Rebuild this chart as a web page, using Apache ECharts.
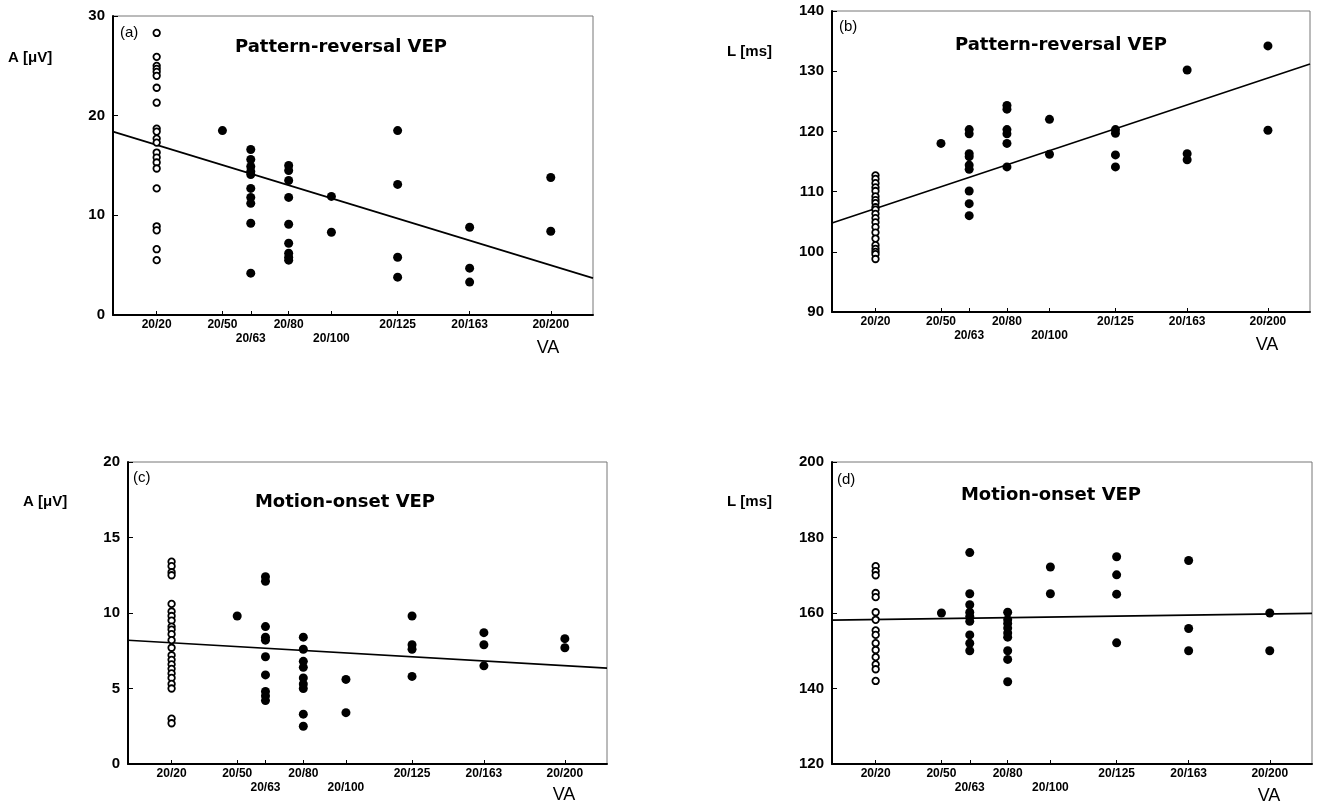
<!DOCTYPE html>
<html>
<head>
<meta charset="utf-8">
<script src="https://cdn.jsdelivr.net/npm/echarts@6/dist/echarts.min.js"></script>
<style>
  html, body { margin: 0; padding: 0; background: #fff; }
  #chart { width: 1322px; height: 804px; }
</style>
</head>
<body>
<div id="chart"></div>
<script>
  // visual acuity categories and where they sit on the x scale (0..100)
  const vaLabels = ['20/20', '20/50', '20/63', '20/80', '20/100', '20/125', '20/163', '20/200']
  const vaPos = [9.1, 22.8, 28.7, 36.6, 45.5, 59.3, 74.3, 91.2]
  const vaLowerRow = [false, false, true, false, true, false, false, false]
  const fitX = [0, 100]

  // (a) pattern-reversal amplitude, one list per acuity group
  const prAmp = [
    [28.3, 25.9, 25.0, 24.7, 24.4, 24.0, 22.8, 21.3, 18.7, 18.4, 17.7, 17.3, 16.3, 15.8, 15.3, 14.7, 12.7, 8.9, 8.5, 6.6, 5.5],
    [18.5],
    [16.6, 15.6, 14.9, 14.4, 14.1, 12.7, 11.8, 11.2, 9.2, 4.2],
    [15.0, 14.5, 13.5, 11.8, 9.1, 7.2, 6.2, 5.8, 5.5],
    [11.9, 8.3],
    [18.5, 13.1, 5.8, 3.8],
    [8.8, 4.7, 3.3],
    [13.8, 8.4]
  ]
  const prAmpFit = [18.4, 3.7]

  // (b) pattern-reversal latency
  const prLat = [
    [112.7, 112.1, 111.4, 110.7, 110.1, 109.2, 108.6, 108.1, 107.4, 107.0, 106.3, 105.6, 104.9, 104.1, 103.2, 102.2, 101.1, 100.5, 100.0, 99.6, 98.8],
    [118.0],
    [120.3, 119.6, 116.3, 115.8, 114.4, 113.7, 110.1, 108.0, 106.0],
    [124.3, 123.7, 120.3, 119.6, 118.0, 114.1],
    [122.0, 116.2],
    [120.3, 119.7, 116.1, 114.1],
    [130.2, 116.3, 115.3],
    [134.2, 120.2]
  ]
  const prLatFit = [104.8, 131.2]

  // (c) motion-onset amplitude
  const moAmp = [
    [13.4, 13.1, 12.7, 12.5, 10.6, 10.1, 9.8, 9.5, 9.1, 8.9, 8.6, 8.2, 7.7, 7.2, 6.9, 6.6, 6.3, 6.0, 5.7, 5.3, 5.0, 3.0, 2.7],
    [9.8],
    [12.4, 12.1, 9.1, 8.4, 8.2, 7.1, 5.9, 4.8, 4.5, 4.2],
    [8.4, 7.6, 6.8, 6.4, 5.7, 5.3, 5.0, 3.3, 2.5],
    [5.6, 3.4],
    [9.8, 7.9, 7.6, 5.8],
    [8.7, 7.9, 6.5],
    [8.3, 7.7]
  ]
  const moAmpFit = [8.2, 6.35]

  // (d) motion-onset latency
  const moLat = [
    [172.4, 171.1, 170.0, 165.3, 164.2, 160.2, 158.2, 155.4, 154.2, 152.0, 150.2, 148.3, 146.4, 145.1, 142.0],
    [160.0],
    [176.0, 165.1, 162.2, 160.2, 159.1, 157.8, 154.2, 152.0, 150.0],
    [160.2, 158.2, 157.2, 156.0, 154.7, 153.6, 150.0, 147.7, 141.8],
    [172.2, 165.1],
    [174.9, 170.1, 165.0, 152.1],
    [173.9, 155.9, 150.0],
    [160.0, 150.0]
  ]
  const moLatFit = [158.1, 159.9]

  const FONT = 'Liberation Sans, Arial, sans-serif'
  const WIDE = 'DejaVu Sans, Liberation Sans, sans-serif'

  const panels = [
    { grid: { left: 113, top: 16, width: 480, height: 299 }, min: 0, max: 30, interval: 10, data: prAmp, fit: prAmpFit },
    { grid: { left: 832, top: 11, width: 478, height: 301 }, min: 90, max: 140, interval: 10, data: prLat, fit: prLatFit },
    { grid: { left: 128, top: 462, width: 479, height: 302 }, min: 0, max: 20, interval: 5, data: moAmp, fit: moAmpFit },
    { grid: { left: 832, top: 462, width: 480, height: 302 }, min: 120, max: 200, interval: 20, data: moLat, fit: moLatFit }
  ]

  function vaFormatter(v) {
    let best = 0
    vaPos.forEach((p, i) => { if (Math.abs(p - v) < Math.abs(vaPos[best] - v)) best = i })
    return vaLowerRow[best] ? '\n' + vaLabels[best] : vaLabels[best]
  }

  const grids = [], xAxes = [], yAxes = [], series = []
  panels.forEach((p, k) => {
    grids.push(Object.assign({ show: true, borderColor: '#777', borderWidth: 1 }, p.grid))
    xAxes.push({
      type: 'value', gridIndex: k, min: 0, max: 100,
      splitLine: { show: false },
      axisLine: { lineStyle: { color: '#000', width: 2 } },
      axisTick: { inside: true, length: 4, customValues: vaPos, lineStyle: { color: '#000', width: 1 } },
      axisLabel: {
        customValues: vaPos, formatter: vaFormatter, margin: 3,
        color: '#000', fontFamily: FONT, fontWeight: 'bold', fontSize: 12, lineHeight: 14
      }
    })
    yAxes.push({
      type: 'value', gridIndex: k, min: p.min, max: p.max, interval: p.interval,
      splitLine: { show: false },
      axisLine: { show: true, lineStyle: { color: '#000', width: 2 } },
      axisTick: { inside: true, length: 5, lineStyle: { color: '#000', width: 1 } },
      axisLabel: { margin: 8, color: '#000', fontFamily: FONT, fontWeight: 'bold', fontSize: 15 }
    })
    const open = p.data[0].map(v => [vaPos[0], v])
    const filled = []
    p.data.forEach((grp, i) => { if (i > 0) grp.forEach(v => filled.push([vaPos[i], v])) })
    series.push({
      type: 'line', xAxisIndex: k, yAxisIndex: k, data: fitX.map((x, i) => [x, p.fit[i]]),
      symbol: 'none', silent: true, lineStyle: { color: '#000', width: 1.6 }, z: 2
    })
    series.push({
      type: 'scatter', xAxisIndex: k, yAxisIndex: k, data: open, symbol: 'circle', symbolSize: 6.5,
      itemStyle: { color: '#fff', borderColor: '#000', borderWidth: 1.8, opacity: 1 }, z: 3
    })
    series.push({
      type: 'scatter', xAxisIndex: k, yAxisIndex: k, data: filled, symbol: 'circle', symbolSize: 9,
      itemStyle: { color: '#000', opacity: 1 }, z: 3
    })
  })

  function txt(text, x, y, size, weight, align, family) {
    return {
      type: 'text', z: 10,
      style: {
        text: text, x: x, y: y, fill: '#000',
        font: (weight || 'normal') + ' ' + size + 'px ' + (family || FONT),
        textAlign: align || 'left', textVerticalAlign: 'middle'
      }
    }
  }

  const chart = echarts.init(document.getElementById('chart'))
  chart.setOption({
    animation: false,
    backgroundColor: '#fff',
    grid: grids,
    xAxis: xAxes,
    yAxis: yAxes,
    series: series,
    graphic: [
      txt('(a)', 120, 33, 15),
      txt('Pattern-reversal VEP', 341, 47, 18, 'bold', 'center', WIDE),
      txt('A [\u03bcV]', 8, 58, 15, 'bold'),
      txt('VA', 548, 348, 18, 'normal', 'center'),

      txt('(b)', 839, 27, 15),
      txt('Pattern-reversal VEP', 1061, 45, 18, 'bold', 'center', WIDE),
      txt('L [ms]', 727, 52, 15, 'bold'),
      txt('VA', 1267, 345, 18, 'normal', 'center'),

      txt('(c)', 133, 478, 15),
      txt('Motion-onset VEP', 345, 502, 18, 'bold', 'center', WIDE),
      txt('A [\u03bcV]', 23, 502, 15, 'bold'),
      txt('VA', 564, 795, 18, 'normal', 'center'),

      txt('(d)', 837, 480, 15),
      txt('Motion-onset VEP', 1051, 495, 18, 'bold', 'center', WIDE),
      txt('L [ms]', 727, 502, 15, 'bold'),
      txt('VA', 1269, 796, 18, 'normal', 'center')
    ]
  })
</script>
</body>
</html>
